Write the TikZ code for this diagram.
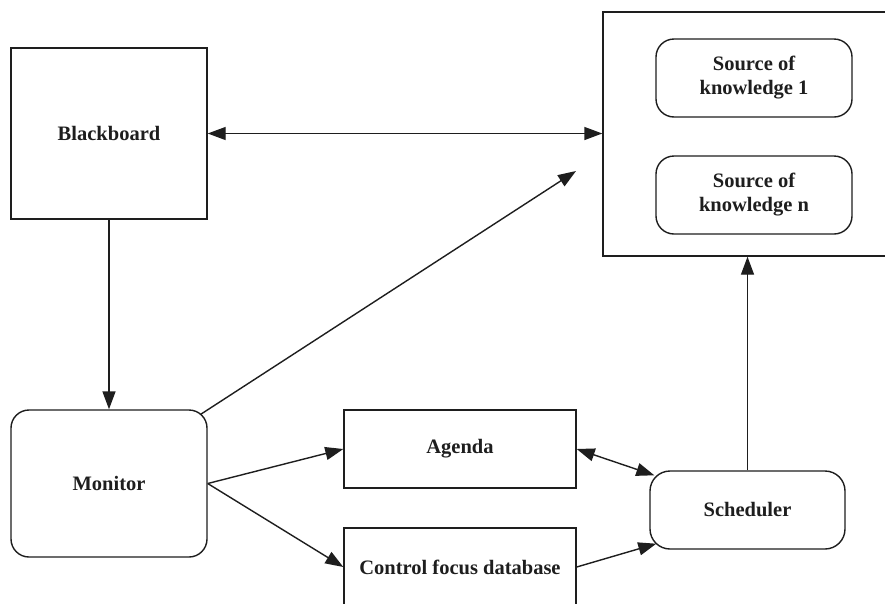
\documentclass[tikz,border=0pt]{standalone}
\usepackage{fontspec}
\setmainfont{Liberation Serif}
\usetikzlibrary{arrows.meta,calc}
\definecolor{ink}{HTML}{1E1E1E}
\begin{document}
\begin{tikzpicture}[x=1pt,y=-1pt,
  box/.style={draw=ink,line width=1.4pt,inner sep=0pt,align=center,text=ink,
    font=\fontsize{20.5}{24}\selectfont\bfseries},
  rbox/.style={box,rounded corners=18pt},
  tip/.tip={Triangle[length=18pt,width=13pt]},
  link/.style={draw=ink,line width=1.4pt,-tip},
  dlink/.style={draw=ink,line width=1.4pt,tip-tip}]
\useasboundingbox[fill=white] (0,0) rectangle (885,603);

\begin{scope}
\clip (0,0) rectangle (885,603);
% knowledge sources container (runs past the right edge)
\node[box,minimum width=300pt,minimum height=244pt] (kb) at (753,134) {};
% control focus database (runs past the bottom edge)
\node[box,minimum width=232pt,minimum height=78pt] (cf) at (460,567) {Control focus database};
\end{scope}

\node[box,minimum width=196pt,minimum height=171pt] (bb) at (109,133.5) {Blackboard};
\node[rbox,minimum width=196pt,minimum height=78pt] (s1) at (754,78) {Source of\\knowledge 1};
\node[rbox,minimum width=196pt,minimum height=78pt] (sn) at (754,195) {Source of\\knowledge n};
\node[rbox,minimum width=196pt,minimum height=147pt] (mon) at (109,483.5) {Monitor};
\node[box,minimum width=232pt,minimum height=78pt] (ag) at (460,449) {Agenda};
\node[rbox,minimum width=195pt,minimum height=78pt,rounded corners=20pt] (sch) at (747.5,510) {Scheduler};

\coordinate (kbin) at (576,171);

\draw[dlink] (bb.east) -- (bb.east -| kb.west);
\draw[link] (bb.south) -- (mon.north);
\draw[link] ($(mon.north east)+(-7,5)$) -- (kbin);
\draw[link] (mon.east) -- (ag.west);
\draw[link] (mon.east) -- (cf.west);
\draw[dlink] (ag.east) -- ($(sch.north west)+(5,5)$);
\draw[link] (cf.east) -- ($(sch.south west)+(7,-6)$);
\draw[link] (sch.north) -- (sch.north |- kb.south);
\end{tikzpicture}
\end{document}
